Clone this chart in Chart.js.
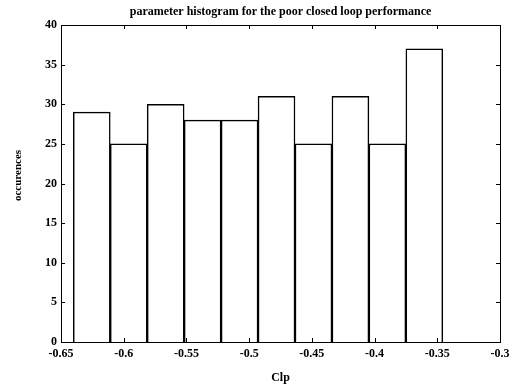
<!DOCTYPE html>
<html><head><meta charset="utf-8">
<script src="https://cdn.jsdelivr.net/npm/chart.js@4/dist/chart.umd.min.js"></script>
<style>html,body{margin:0;padding:0;background:#fff}#wrap{width:520px;height:387px}</style>
</head><body><div id="wrap"><canvas id="c"></canvas></div>
<script>
const binStart = -0.6402;
const binWidth = 0.02946;
const counts = [29, 25, 30, 28, 28, 31, 25, 31, 25, 37];
const binCenters = [0,1,2,3,4,5,6,7,8,9].map(i => binStart + binWidth * (i + 0.5));
const xTicks = [-0.65, -0.6, -0.55, -0.5, -0.45, -0.4, -0.35, -0.3];
const yTicks = [0, 5, 10, 15, 20, 25, 30, 35, 40];
const titleText = 'parameter histogram for the poor closed loop performance';
const xLabel = 'Clp';
const yLabel = 'occurences';

const serif = '"Liberation Serif", "DejaVu Serif", serif';

const framePlugin = {
  id: 'frame',
  afterDraw(chart) {
    const ctx = chart.ctx, a = chart.chartArea;
    const xs = chart.scales.x, ys = chart.scales.y;
    ctx.save();
    ctx.strokeStyle = '#000';
    ctx.lineWidth = 1;
    ctx.strokeRect(a.left + 0.5, a.top + 0.5, a.right - a.left, a.bottom - a.top);
    const L = 4;
    ctx.beginPath();
    xTicks.forEach(v => {
      const p = Math.round(xs.getPixelForValue(v)) + 0.5;
      ctx.moveTo(p, a.bottom); ctx.lineTo(p, a.bottom - L);
      ctx.moveTo(p, a.top); ctx.lineTo(p, a.top + L);
    });
    yTicks.forEach(v => {
      const p = Math.round(ys.getPixelForValue(v)) + 0.5;
      ctx.moveTo(a.left, p); ctx.lineTo(a.left + L, p);
      ctx.moveTo(a.right, p); ctx.lineTo(a.right - L, p);
    });
    ctx.stroke();
    ctx.fillStyle = '#000';
    ctx.textAlign = 'center';
    ctx.textBaseline = 'middle';
    ctx.font = 'bold 12px ' + serif;
    ctx.fillText(titleText, (a.left + a.right) / 2, 12);
    ctx.font = 'bold 12px ' + serif;
    ctx.fillText(xLabel, (a.left + a.right) / 2, 378);
    ctx.save();
    ctx.translate(18, (a.top + a.bottom) / 2 - 8);
    ctx.rotate(-Math.PI / 2);
    ctx.font = 'bold 11px ' + serif;
    ctx.fillText(yLabel, 0, 0);
    ctx.restore();
    ctx.restore();
  }
};

new Chart(document.getElementById('c'), {
  type: 'bar',
  data: {
    datasets: [{
      data: binCenters.map((x, i) => ({ x: x, y: counts[i] })),
      backgroundColor: '#fff',
      borderColor: '#000',
      borderWidth: 1.5,
      borderSkipped: 'bottom',
      barPercentage: 1,
      categoryPercentage: 1
    }]
  },
  options: {
    responsive: true,
    maintainAspectRatio: false,
    animation: false,
    devicePixelRatio: 1,
    layout: { padding: { top: 25, right: 20, left: 0, bottom: 0 } },
    plugins: { legend: { display: false }, tooltip: { enabled: false }, title: { display: false } },
    scales: {
      x: {
        type: 'linear', min: -0.65, max: -0.3, offset: false,
        afterFit(s) { s.height = 45; },
        afterBuildTicks(s) { s.ticks = xTicks.map(v => ({ value: v })); },
        grid: { display: false, drawTicks: false },
        border: { display: false },
        ticks: { color: '#000', padding: 5, maxRotation: 0, autoSkip: false,
          font: { family: serif, size: 12, weight: 'bold' },
          callback: v => String(Math.round(v * 100) / 100) }
      },
      y: {
        min: 0, max: 40,
        afterFit(s) { s.width = 61; },
        afterBuildTicks(s) { s.ticks = yTicks.map(v => ({ value: v })); },
        grid: { display: false, drawTicks: false },
        border: { display: false },
        ticks: { color: '#000', padding: 4,
          font: { family: serif, size: 12, weight: 'bold' } }
      }
    }
  },
  plugins: [framePlugin]
});
</script></body></html>
